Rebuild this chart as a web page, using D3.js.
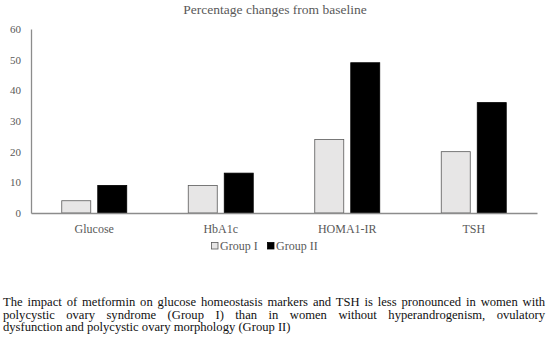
<!DOCTYPE html>
<html>
<head>
<meta charset="utf-8">
<script src="https://cdn.jsdelivr.net/npm/d3@7"></script>
<style>
  body { margin: 0; background: #fff; }
  #chart { position: relative; width: 550px; height: 345px; overflow: hidden; }
  .caption {
    position: absolute; left: 3px; top: 296px; width: 542px;
    font-family: "Liberation Serif", serif; font-size: 12.6px; line-height: 12.6px; color: #111;
  }
  .caption div { text-align: justify; text-align-last: justify; white-space: nowrap; }
  .caption div.last { text-align-last: left; }
</style>
</head>
<body>
<div id="chart"></div>
<script>
// data
const categories = ["Glucose", "HbA1c", "HOMA1-IR", "TSH"];
const groups = ["Group I", "Group II"];
const groupI = [4, 9, 24, 20];
const groupII = [9, 13, 49, 36];
const yTicks = [0, 10, 20, 30, 40, 50, 60];
const title = "Percentage changes from baseline";
const captionLines = [
  "The impact of metformin on glucose homeostasis markers and TSH is less pronounced in women with",
  "polycystic ovary syndrome (Group I) than in women without hyperandrogenism, ovulatory",
  "dysfunction and polycystic ovary morphology (Group II)"
];

const width = 550, height = 345;
const marginLeft = 31, marginRight = 13;
const plotTop = 29, plotBottom = 213;
const fills = ["#e7e6e6", "#000000"];
const font = "Liberation Serif, serif";
const grey = "#595959";

const container = d3.select("#chart");
const svg = container.append("svg")
    .attr("width", width)
    .attr("height", height)
    .style("position", "absolute");

const x = d3.scaleBand()
    .domain(categories)
    .range([marginLeft, width - marginRight]);

const xInner = d3.scaleBand()
    .domain(groups)
    .range([0, 65])
    .paddingInner(7 / 36);

const y = d3.scaleLinear()
    .domain([0, 60])
    .range([plotBottom, plotTop]);

// title
svg.append("text")
    .attr("x", 275)
    .attr("y", 14)
    .attr("text-anchor", "middle")
    .attr("font-family", font)
    .attr("font-size", 13.5)
    .attr("fill", grey)
    .text(title);

// y axis
svg.append("g")
    .attr("transform", `translate(${marginLeft},0)`)
    .call(d3.axisLeft(y).tickValues(yTicks).tickSize(0).tickPadding(10))
    .call(g => g.select(".domain").attr("stroke", "#8c8c8c").attr("stroke-width", 1.3))
    .call(g => g.selectAll("text")
        .attr("font-family", font)
        .attr("font-size", 11)
        .attr("fill", grey));

// bars
const rows = categories.map((c, i) => ({cat: c, values: [groupI[i], groupII[i]]}));

const cat = svg.append("g")
  .selectAll("g")
  .data(rows)
  .join("g")
    .attr("transform", d => `translate(${x(d.cat) + x.bandwidth() / 2 - 32.5},0)`);

cat.selectAll("rect")
  .data(d => d.values.map((v, j) => ({group: groups[j], value: v, j})))
  .join("rect")
    .attr("x", d => xInner(d.group))
    .attr("y", d => y(d.value))
    .attr("width", xInner.bandwidth())
    .attr("height", d => y(0) - y(d.value))
    .attr("fill", d => fills[d.j])
    .attr("stroke", d => d.j === 0 ? "#5a5a5a" : "#000")
    .attr("stroke-width", 0.8);

// x axis
svg.append("g")
    .attr("transform", `translate(0,${plotBottom})`)
    .call(d3.axisBottom(x).tickSize(0).tickPadding(11))
    .call(g => g.select(".domain").attr("stroke", "#8c8c8c").attr("stroke-width", 1.3))
    .call(g => g.selectAll("text")
        .attr("font-family", font)
        .attr("font-size", 12)
        .attr("fill", grey));

// legend
const legendX = [211, 267];
const legend = svg.append("g")
  .selectAll("g")
  .data(groups)
  .join("g")
    .attr("transform", (d, i) => `translate(${legendX[i]},246)`);

legend.append("rect")
    .attr("x", 0.5)
    .attr("y", -3.5)
    .attr("width", 6.5)
    .attr("height", 6.5)
    .attr("fill", (d, i) => fills[i])
    .attr("stroke", (d, i) => i === 0 ? "#5a5a5a" : "#000")
    .attr("stroke-width", 0.8);

legend.append("text")
    .attr("x", 9)
    .attr("y", 4)
    .attr("font-family", font)
    .attr("font-size", 12)
    .attr("fill", grey)
    .text(d => d);

// caption
container.append("div")
    .attr("class", "caption")
  .selectAll("div")
  .data(captionLines)
  .join("div")
    .attr("class", (d, i) => i === captionLines.length - 1 ? "last" : null)
    .text(d => d);
</script>
</body>
</html>
